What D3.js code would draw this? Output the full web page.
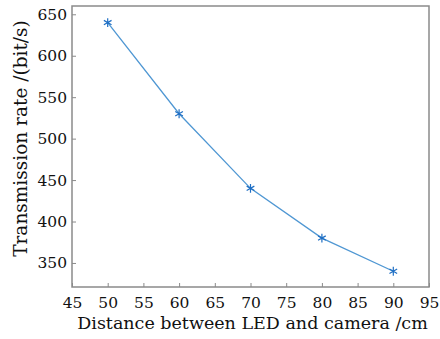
<!DOCTYPE html>
<html>
<head>
<meta charset="utf-8">
<script src="https://cdn.jsdelivr.net/npm/d3@7"></script>
<style>
  body { margin: 0; background: #fff; }
  text { font-family: "DejaVu Serif", serif; fill: #111; }
</style>
</head>
<body>
<div id="chart"></div>
<script>
// distance (cm) vs transmission rate (bit/s)
var distance = [50, 60, 70, 80, 90];
var rate = [640, 530, 440, 380, 340];

var xTicks = [45, 50, 55, 60, 65, 70, 75, 80, 85, 90, 95];
var yTicks = [350, 400, 450, 500, 550, 600, 650];

var XLABEL = 'Distance between LED and camera /cm';
var YLABEL = 'Transmission rate /(bit/s)';

var W = 440, H = 339;
var margin = {top: 6, right: 11, bottom: 52, left: 72},
    width = W - margin.left - margin.right,
    height = H - margin.top - margin.bottom;

var svg = d3.select('#chart')
  .append('svg')
    .attr('width', W)
    .attr('height', H)
  .append('g')
    .attr('transform', 'translate(' + margin.left + ',' + margin.top + ')');

var x = d3.scaleLinear().domain([45, 95]).range([0, width]);
var y = d3.scaleLinear().domain([321, 660]).range([height, 0]);

// frame
svg.append('rect')
  .attr('width', width)
  .attr('height', height)
  .attr('fill', 'none')
  .attr('stroke', '#8a8a8a')
  .attr('stroke-width', 1.5);

// x axis
var xAxis = svg.append('g')
  .attr('transform', 'translate(0,' + height + ')')
  .call(d3.axisBottom(x).tickValues(xTicks).tickSize(-4).tickPadding(10));
xAxis.select('.domain').remove();
xAxis.selectAll('line').attr('stroke', '#8a8a8a');
xAxis.selectAll('text').attr('font-size', 15.5).attr('font-family', '"DejaVu Serif", serif').attr('fill', '#111');

// y axis
var yAxis = svg.append('g')
  .call(d3.axisLeft(y).tickValues(yTicks).tickSize(-4).tickPadding(5));
yAxis.select('.domain').remove();
yAxis.selectAll('line').attr('stroke', '#8a8a8a');
yAxis.selectAll('text').attr('font-size', 15.5).attr('font-family', '"DejaVu Serif", serif').attr('fill', '#111');

// axis titles
svg.append('text')
  .attr('x', width / 2 + 2)
  .attr('y', height + 42)
  .attr('font-size', 17.5)
  .style('text-anchor', 'middle')
  .text(XLABEL);

svg.append('text')
  .attr('transform', 'rotate(-90)')
  .attr('x', -(height / 2) + 8)
  .attr('y', -margin.left + 27)
  .attr('font-size', 18.5)
  .style('text-anchor', 'middle')
  .text(YLABEL);

// line
var pts = distance.map(function(d, i) { return {x: d, y: rate[i]}; });

var valueline = d3.line()
  .x(function(d) { return x(d.x); })
  .y(function(d) { return y(d.y); });

svg.append('path')
  .datum(pts)
  .attr('fill', 'none')
  .attr('stroke', '#4f97d3')
  .attr('stroke-width', 1.3)
  .attr('d', valueline);

// asterisk markers
var star = d3.symbol().type(d3.symbolAsterisk).size(55);
svg.selectAll('.marker')
  .data(pts)
  .enter().append('path')
    .attr('class', 'marker')
    .attr('transform', function(d) { return 'translate(' + x(d.x) + ',' + y(d.y) + ')'; })
    .attr('d', star)
    .attr('fill', 'none')
    .attr('stroke', '#1f6fc4')
    .attr('stroke-width', 1.2);
</script>
</body>
</html>
